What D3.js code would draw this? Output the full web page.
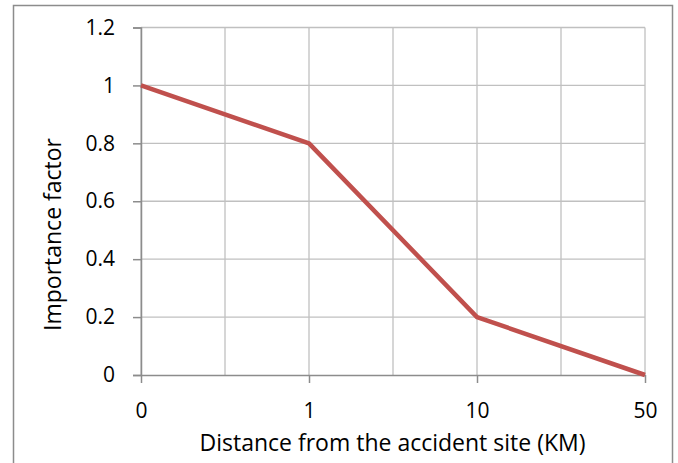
<!DOCTYPE html>
<html>
<head>
<meta charset="utf-8">
<script src="https://cdn.jsdelivr.net/npm/d3@7"></script>
<style>
  html, body { margin: 0; padding: 0; background: #fff; }
  svg { display: block; }
  text { font-family: "Open Sans", sans-serif; fill: #000; }
</style>
</head>
<body>
<svg id="chart" width="678" height="463"></svg>
<script>
const categories = ["0", "1", "10", "50"];
const values = [1, 0.8, 0.2, 0];
const yTicks = [0, 0.2, 0.4, 0.6, 0.8, 1, 1.2];
const xTitle = "Distance from the accident site (KM)";
const yTitle = "Importance factor";

const W = 678, H = 463;
const FONT = "Open Sans";
const FS_TICK = 21;
const FS_TITLE = 23;
const m = { left: 141, right: 678 - 645, top: 27.5, bottom: 463 - 375 };
const svg = d3.select("#chart");

// outer frame
svg.append("rect")
  .attr("x", 13.5).attr("y", 5.5)
  .attr("width", 672.5 - 13.5).attr("height", 480)
  .attr("fill", "none").attr("stroke", "#8c8c8c").attr("stroke-width", 1.5);

const x = d3.scalePoint().domain(categories).range([m.left, W - m.right]);
const y = d3.scaleLinear().domain([0, 1.2]).range([H - m.bottom, m.top]);

const g = svg.append("g");

// vertical gridlines at categories and half steps
const step = x.step();
const vGrid = [];
categories.forEach((c, i) => {
  vGrid.push(x(c));
  if (i < categories.length - 1) vGrid.push(x(c) + step / 2);
});
g.selectAll(".vg").data(vGrid).join("line")
  .attr("x1", d => d).attr("x2", d => d)
  .attr("y1", y(1.2)).attr("y2", y(0))
  .attr("stroke", "#c0c0c0").attr("stroke-width", 1.3);

// horizontal gridlines
g.selectAll(".hg").data(yTicks.filter(t => t > 0)).join("line")
  .attr("x1", m.left).attr("x2", W - m.right)
  .attr("y1", d => y(d)).attr("y2", d => y(d))
  .attr("stroke", "#c0c0c0").attr("stroke-width", 1.3);

// y axis
const yAxis = d3.axisLeft(y).tickValues(yTicks).tickSize(8).tickPadding(18)
  .tickFormat(d => String(+d.toFixed(1)));
const ya = svg.append("g").attr("transform", `translate(${m.left},0)`).call(yAxis);
ya.attr("font-family", FONT).attr("font-size", FS_TICK);
ya.select(".domain").attr("stroke", "#8c8c8c").attr("stroke-width", 1.5);
ya.selectAll(".tick line").attr("stroke", "#8c8c8c").attr("stroke-width", 1.5);
ya.selectAll(".tick text").attr("fill", "#000");

// x axis
const xAxis = d3.axisBottom(x).tickSize(8).tickPadding(20).tickSizeOuter(0);
const xa = svg.append("g").attr("transform", `translate(0,${y(0)})`).call(xAxis);
xa.attr("font-family", FONT).attr("font-size", FS_TICK);
xa.select(".domain").attr("stroke", "#8c8c8c").attr("stroke-width", 1.5);
xa.selectAll(".tick line").attr("stroke", "#8c8c8c").attr("stroke-width", 1.5);
xa.selectAll(".tick text").attr("fill", "#000");

// line
const line = d3.line().x((d, i) => x(categories[i])).y(d => y(d));
svg.append("path").datum(values)
  .attr("d", line)
  .attr("fill", "none").attr("stroke", "#c0504d").attr("stroke-width", 4.5)
  .attr("stroke-linejoin", "round");

// titles
svg.append("text")
  .attr("x", 392.5).attr("y", 451)
  .attr("text-anchor", "middle").attr("font-size", FS_TITLE)
  .text(xTitle);

svg.append("text")
  .attr("transform", `translate(61,234.5) rotate(-90)`)
  .attr("text-anchor", "middle").attr("font-size", FS_TITLE)
  .text(yTitle);
</script>
</body>
</html>
